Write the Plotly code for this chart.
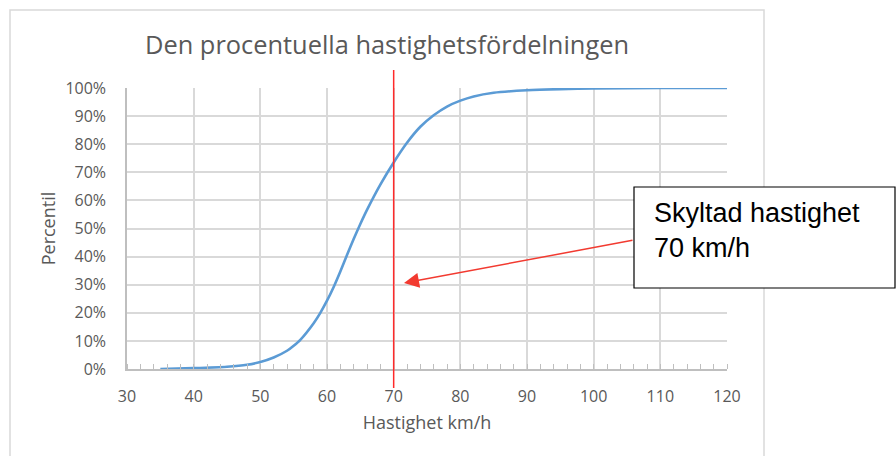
import plotly.graph_objects as go

# Data
speed_kmh = [35, 40, 45, 48, 50, 52, 54, 55, 56, 58, 59, 60, 61, 62, 63, 64, 65, 66, 68, 70,
             72, 74, 76, 78, 80, 82, 85, 90, 95, 100, 110, 120]
percentile = [0.000, 0.003, 0.008, 0.015, 0.025, 0.041, 0.065, 0.083, 0.104, 0.163,
              0.200, 0.243, 0.292, 0.347, 0.406, 0.463, 0.516, 0.566, 0.656, 0.735,
              0.805, 0.862, 0.903, 0.934, 0.955, 0.970, 0.983, 0.992, 0.996, 0.998,
              1.000, 1.000]
x_ticks = [30, 40, 50, 60, 70, 80, 90, 100, 110, 120]
y_ticks = [0, 0.1, 0.2, 0.3, 0.4, 0.5, 0.6, 0.7, 0.8, 0.9, 1.0]
speed_limit = 70
title_text = "Den procentuella hastighetsfördelningen"
x_title = "Hastighet km/h"
y_title = "Percentil"
note_lines = ["Skyltad hastighet", "70 km/h"]

GRAY_TXT = "#595959"
GRID = "#d9d9d9"
FONT = "Open Sans"

fig = go.Figure()
fig.add_trace(go.Scatter(x=speed_kmh, y=percentile, mode="lines",
                         line=dict(color="#5b9bd5", width=2.6, shape="spline", smoothing=0.6),
                         showlegend=False, hoverinfo="skip"))

fig.update_layout(
    width=896, height=456,
    margin=dict(l=127, r=169, t=88, b=87),
    paper_bgcolor="white", plot_bgcolor="white",
    font=dict(family=FONT, color=GRAY_TXT, size=16),
    title=dict(text=title_text, x=387/896, xanchor="center", xref="container",
               y=1-45/456, yanchor="middle", yref="container",
               font=dict(family=FONT, size=25.4, color=GRAY_TXT)),
    xaxis=dict(range=[30, 120], tickvals=x_ticks, showgrid=True, gridcolor=GRID, gridwidth=1.5,
               zeroline=False, showline=True, linecolor="#bfbfbf", linewidth=1.5,
               ticks="", ticklabelstandoff=12,
               minor=dict(ticks="inside", dtick=2, ticklen=5, tickcolor="#bfbfbf", showgrid=False),
               title=dict(text=x_title, standoff=10, font=dict(size=18, color=GRAY_TXT)),
               tickfont=dict(size=16, color=GRAY_TXT)),
    yaxis=dict(range=[0, 1], tickvals=y_ticks, tickformat=".0%", showgrid=True, gridcolor=GRID,
               gridwidth=1.5, zeroline=False, showline=True, linecolor="#bfbfbf", linewidth=1.5,
               ticks="", ticklabelstandoff=16,
               title=dict(text=y_title, standoff=5, font=dict(size=18, color=GRAY_TXT)),
               tickfont=dict(size=16, color=GRAY_TXT)),
)

# chart-area border
fig.add_shape(type="rect", xref="paper", yref="paper",
              x0=(10-127)/600, x1=(764-127)/600, y0=(369-470)/281, y1=(369-10)/281,
              line=dict(color="#d9d9d9", width=1.5), fillcolor="rgba(0,0,0,0)", layer="below")

# speed limit line
fig.add_shape(type="line", xref="x", yref="paper", x0=speed_limit, x1=speed_limit,
              y0=-0.068, y1=1.064, line=dict(color="#ff2a2a", width=1.5))

# callout box
fig.add_shape(type="rect", xref="paper", yref="paper",
              x0=(634-127)/600, x1=(895-127)/600, y0=(369-288)/281, y1=(369-187)/281,
              line=dict(color="black", width=1.2), fillcolor="white")
fig.add_annotation(xref="paper", yref="paper", x=(652-127)/600, y=(369-230.5)/281,
                   xanchor="left", yanchor="middle", align="left", showarrow=False,
                   text="<br>".join(note_lines),
                   font=dict(family="Liberation Sans", size=27, color="black"))
# arrow
fig.add_annotation(xref="x", yref="y", x=71.55, y=0.306, ax=230, ay=-43, text="",
                   showarrow=True, arrowhead=2, arrowsize=2, arrowwidth=1.5,
                   arrowcolor="#f23a30", standoff=0)

fig.write_html("out.html")
